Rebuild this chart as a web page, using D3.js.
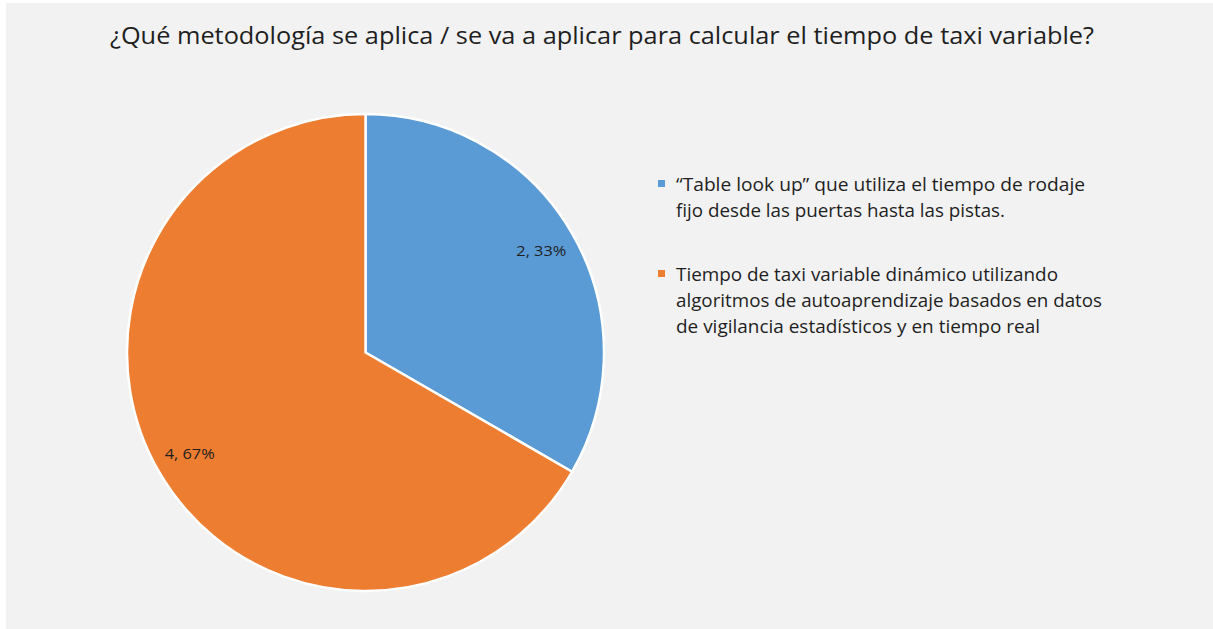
<!DOCTYPE html>
<html><head><meta charset="utf-8">
<script src="https://cdn.jsdelivr.net/npm/d3@7"></script>
<style>body{margin:0;background:#fff}svg{display:block}</style>
</head><body>
<svg id="c" width="1213" height="629"></svg>
<script>
const title = "¿Qué metodología se aplica / se va a aplicar para calcular el tiempo de taxi variable?";
const categories = [
  "“Table look up” que utiliza el tiempo de rodaje fijo desde las puertas hasta las pistas.",
  "Tiempo de taxi variable dinámico utilizando algoritmos de autoaprendizaje basados en datos de vigilancia estadísticos y en tiempo real"
];
const legendLines = [
  ["“Table look up” que utiliza el tiempo de rodaje", "fijo desde las puertas hasta las pistas."],
  ["Tiempo de taxi variable dinámico utilizando", "algoritmos de autoaprendizaje basados en datos", "de vigilancia estadísticos y en tiempo real"]
];
const values = [2, 4];
const colors = ["#5B9BD5", "#ED7D31"];

const svg = d3.select("#c");
const font = "'Open Sans', 'Noto Sans', sans-serif";
svg.append("rect").attr("x", 6).attr("y", 3).attr("width", 1207).attr("height", 626).attr("fill", "#F2F2F2");

function fit(sel, w) {
  sel.each(function(){
    const n = this.getComputedTextLength();
    if (Math.abs(n - w) > 1) { d3.select(this).attr("textLength", w).attr("lengthAdjust", "spacingAndGlyphs"); }
  });
}

svg.append("text").attr("x", 110).attr("y", 44).attr("font-family", font).attr("font-size", 23)
  .attr("fill", "#1f1f1f").text(title).call(fit, 984);

const cx = 365.5, cy = 352.5, R = 238.5;
const total = d3.sum(values);
const pie = d3.pie().sort(null).value(d => d)(values);
const arc = d3.arc().innerRadius(0).outerRadius(R);
const g = svg.append("g").attr("transform", `translate(${cx},${cy})`);
g.selectAll("path").data(pie).join("path").attr("d", arc)
  .attr("fill", (d, i) => colors[i]).attr("stroke", "#fff").attr("stroke-width", 2.5).attr("stroke-linejoin", "round");

const labelArc = d3.arc().innerRadius(203).outerRadius(203);
const lblW = [50, 50];
g.selectAll("text.lbl").data(pie).join("text").attr("class", "lbl")
  .attr("x", d => labelArc.centroid(d)[0]).attr("y", d => labelArc.centroid(d)[1] + 5)
  .attr("text-anchor", "middle").attr("font-family", font).attr("font-size", 15).attr("fill", "#1f1f1f")
  .text(d => `${d.data}, ${Math.round(d.data / total * 100)}%`)
  .each(function(d, i){ d3.select(this).call(fit, lblW[i]); });

const lineW = [[409, 329], [382, 426, 364]];
const legStart = [191, 281];
legendLines.forEach((lines, i) => {
  svg.append("rect").attr("x", 658).attr("y", legStart[i] - 11).attr("width", 7).attr("height", 7).attr("fill", colors[i]);
  lines.forEach((t, j) => {
    svg.append("text").attr("x", 676).attr("y", legStart[i] + j * 26)
      .attr("font-family", font).attr("font-size", 18).attr("fill", "#1f1f1f").text(t).call(fit, lineW[i][j]);
  });
});
</script>
</body></html>
